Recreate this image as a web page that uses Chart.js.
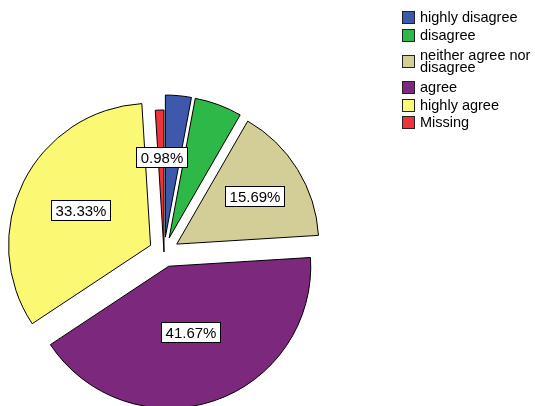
<!DOCTYPE html>
<html>
<head>
<meta charset="utf-8">
<script src="https://cdn.jsdelivr.net/npm/chart.js@4.4.0/dist/chart.umd.min.js"></script>
<style>
  html, body { margin: 0; padding: 0; background: #fff; }
  #chart { display: block; }
</style>
</head>
<body>
<canvas id="chart" width="535" height="406"></canvas>
<script>
// Data (percent of responses)
const categories = ['highly disagree', 'disagree', 'neither agree nor disagree', 'agree', 'highly agree', 'Missing'];
const percentValues = [2.94, 5.39, 15.69, 41.67, 33.33, 0.98];
const showLabel = [false, false, true, true, true, true];

const sliceColors = ['#3E58AC', '#2EB848', '#D3CE97', '#7C287D', '#FBF873', '#EF3338'];
const LABEL_FONT = '15px "Liberation Sans", Arial, sans-serif';
const LEGEND_FONT = '14.5px "Liberation Sans", Arial, sans-serif';

/**
 * Moves every slice out along its middle angle (SPSS style exploded pie).
 */
const explodePlugin = {
    id: 'explode',
    afterUpdate(chart, args, opts) {
        chart.getDatasetMeta(0).data.forEach((arc, i) => {
            const dist = opts.distance[i] || 0;
            const baseDraw = Object.getPrototypeOf(arc).draw;
            arc.explodeDistance = dist;
            arc.draw = function (ctx) {
                const mid = (this.startAngle + this.endAngle) / 2;
                ctx.save();
                ctx.translate(Math.cos(mid) * dist, Math.sin(mid) * dist);
                baseDraw.call(this, ctx);
                ctx.restore();
            };
        });
    },
};

/**
 * Boxed percent labels, placed at the centroid of each slice.
 */
const sliceLabelPlugin = {
    id: 'sliceLabels',
    afterDatasetsDraw(chart) {
        const ctx = chart.ctx;
        const meta = chart.getDatasetMeta(0);
        ctx.save();
        ctx.font = LABEL_FONT;
        ctx.textAlign = 'center';
        ctx.textBaseline = 'middle';
        ctx.lineWidth = 1;
        meta.data.forEach((arc, i) => {
            if (!showLabel[i]) {
                return;
            }
            const p = arc.getProps(['x', 'y', 'startAngle', 'endAngle', 'outerRadius'], true);
            const mid = (p.startAngle + p.endAngle) / 2;
            const half = (p.endAngle - p.startAngle) / 2;
            const d = (arc.explodeDistance || 0) + 2 * p.outerRadius * Math.sin(half) / (3 * half);
            const lx = p.x + Math.cos(mid) * d;
            const ly = p.y + Math.sin(mid) * d;
            const text = percentValues[i].toFixed(2) + '%';
            const w = Math.round(ctx.measureText(text).width + 8);
            const h = 20;
            const bx = Math.round(lx - w / 2) + 0.5;
            const by = Math.round(ly - h / 2) + 0.5;
            ctx.fillStyle = '#fff';
            ctx.fillRect(bx, by, w, h);
            ctx.strokeStyle = '#000';
            ctx.strokeRect(bx, by, w, h);
            ctx.fillStyle = '#000';
            ctx.fillText(text, bx + w / 2, by + h / 2 + 1);
        });
        ctx.restore();
    },
};

/**
 * Legend at top right, long entries wrapped onto two lines.
 */
const sideLegendPlugin = {
    id: 'sideLegend',
    afterDraw(chart) {
        const ctx = chart.ctx;
        const left = 402, textX = 420, maxWidth = 114;
        const rowH = 17.5, lineH = 11.5;
        let top = 8.5;
        ctx.save();
        ctx.font = LEGEND_FONT;
        ctx.textAlign = 'left';
        ctx.textBaseline = 'middle';
        chart.data.labels.forEach((label, i) => {
            // wrap words to maxWidth
            const lines = [];
            let cur = '';
            label.split(' ').forEach((word) => {
                const test = cur ? cur + ' ' + word : word;
                if (cur && ctx.measureText(test).width > maxWidth) {
                    lines.push(cur);
                    cur = word;
                } else {
                    cur = test;
                }
            });
            lines.push(cur);

            const itemH = lines.length * rowH;
            const cy = top + itemH / 2;
            ctx.fillStyle = sliceColors[i];
            ctx.fillRect(left + 0.5, Math.round(cy - 6) + 0.5, 12, 12);
            ctx.strokeStyle = '#222';
            ctx.lineWidth = 1;
            ctx.strokeRect(left + 0.5, Math.round(cy - 6) + 0.5, 12, 12);

            ctx.fillStyle = '#000';
            const firstY = cy - (lines.length - 1) * lineH / 2;
            lines.forEach((line, k) => {
                ctx.fillText(line, textX, firstY + k * lineH + 1);
            });
            top += itemH;
        });
        ctx.restore();
    },
};

new Chart(document.getElementById('chart'), {
    type: 'pie',
    data: {
        labels: categories,
        datasets: [{
            data: percentValues,
            backgroundColor: sliceColors,
            borderColor: '#000',
            borderWidth: 1,
            borderJoinStyle: 'miter',
            radius: 142,
            offset: 0,
            hoverOffset: 0,
        }],
    },
    options: {
        responsive: false,
        animation: false,
        events: [],
        layout: {
            padding: { left: 0, right: 207, top: 98, bottom: 0 },
        },
        plugins: {
            legend: { display: false },
            tooltip: { enabled: false },
            explode: { distance: [15, 15, 15, 15, 15, 0] },
        },
    },
    plugins: [explodePlugin, sliceLabelPlugin, sideLegendPlugin],
});
</script>
</body>
</html>
